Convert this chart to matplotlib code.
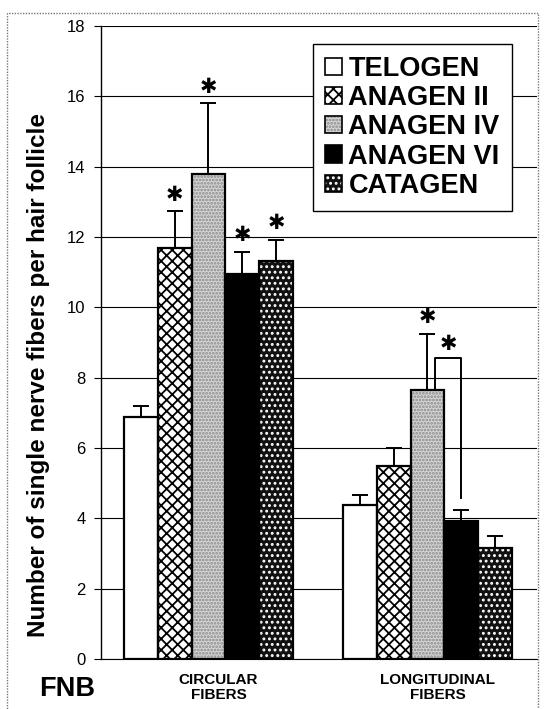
import numpy as np
import matplotlib
matplotlib.use("Agg")
import matplotlib.pyplot as plt
from matplotlib.patches import Rectangle, Patch

plt.rcParams['font.family'] = ['Liberation Sans', 'DejaVu Sans']
plt.rcParams['hatch.linewidth'] = 1.3

# data
groups = ['CIRCULAR\nFIBERS', 'LONGITUDINAL\nFIBERS']
stages = ['TELOGEN', 'ANAGEN II', 'ANAGEN IV', 'ANAGEN VI', 'CATAGEN']
means = {
    'TELOGEN':   [6.88, 4.38],
    'ANAGEN II': [11.7, 5.5],
    'ANAGEN IV': [13.78, 7.64],
    'ANAGEN VI': [10.95, 3.93],
    'CATAGEN':   [11.31, 3.15],
}
sems = {
    'TELOGEN':   [0.31, 0.27],
    'ANAGEN II': [1.03, 0.5],
    'ANAGEN IV': [2.02, 1.6],
    'ANAGEN VI': [0.63, 0.32],
    'CATAGEN':   [0.61, 0.35],
}
# significance stars: (group index, stage)
stars = [(0, 'ANAGEN II'), (0, 'ANAGEN IV'), (0, 'ANAGEN VI'), (0, 'CATAGEN'),
         (1, 'ANAGEN IV')]
bracket_top = 8.55       # IV vs VI, longitudinal
bracket_right_end = 4.57

group_x = np.array([0, 6.48])
width = 1.0

styles = {
    'TELOGEN':   dict(face='white', hatch=None, hcol='black'),
    'ANAGEN II': dict(face='white', hatch='xxx', hcol='black'),
    'ANAGEN IV': dict(face='#d4d4d4', hatch='.....', hcol='#8a8a8a'),
    'ANAGEN VI': dict(face='black', hatch=None, hcol='black'),
    'CATAGEN':   dict(face='#111111', hatch='...', hcol='white'),
}

fig = plt.figure(figsize=(5.46, 7.09), dpi=100)
ax = fig.add_axes([0.185, 0.0705, 0.7985, 0.8928])

handles = []
positions = {}
for i, st in enumerate(stages):
    xs = group_x + (i - 2) * width
    positions[st] = xs
    s = styles[st]
    # fill + hatch layer
    ax.bar(xs, means[st], width, color=s['face'], hatch=s['hatch'],
           edgecolor=s['hcol'], linewidth=0, zorder=2)
    # outline layer
    ax.bar(xs, means[st], width, fill=False, edgecolor='black',
           linewidth=1.6, zorder=3)
    ax.errorbar(xs, means[st], yerr=[np.zeros(2), sems[st]], fmt='none',
                ecolor='black', elinewidth=1.4, capsize=6, capthick=1.4, zorder=1)
    handles.append((Patch(facecolor=s['face'], hatch=s['hatch'], edgecolor=s['hcol'], linewidth=0),
                    Patch(fill=False, edgecolor='black', linewidth=1.2)))

for g, st in stars:
    ax.annotate('✱', (positions[st][g], means[st][g] + sems[st][g]),
                xytext=(0, 12), textcoords='offset points', ha='center', va='center',
                fontsize=15, family='DejaVu Sans')

# bracket between ANAGEN IV and ANAGEN VI (longitudinal)
x_left = positions['ANAGEN IV'][1] + 0.23
x_right = positions['ANAGEN VI'][1]
ax.plot([x_left, x_left, x_right, x_right],
        [means['ANAGEN IV'][1], bracket_top, bracket_top, bracket_right_end],
        color='black', lw=1.4, zorder=1)
ax.annotate('✱', ((x_left + x_right) / 2, bracket_top), xytext=(0, 10),
            textcoords='offset points', ha='center', va='center',
            fontsize=15, family='DejaVu Sans')

ax.set_xlim(-3.18, group_x[1] + 3.24)
ax.set_ylim(0, 18)
ax.set_yticks(np.arange(0, 19, 2))
ax.yaxis.grid(True, color='black', lw=0.8)
ax.set_axisbelow(True)
ax.tick_params(axis='y', labelsize=12, length=5, width=0.8, pad=6)
ax.set_xticks([])
for sp in ['top', 'right']:
    ax.spines[sp].set_visible(False)
ax.spines['left'].set_linewidth(1.0)
ax.spines['bottom'].set_linewidth(0.8)

fig.text(0.07, 0.471, 'Number of single nerve fibers per hair follicle', fontsize=17.5,
         fontweight='bold', rotation=90, ha='center', va='center')

for gx, name in zip(group_x, groups):
    ax.text(gx + 0.3, -0.4, name, ha='center', va='top', fontsize=11,
            fontweight='bold', linespacing=1.1)
fig.text(0.071, 0.018, 'FNB', fontsize=19.5, fontweight='bold', ha='left', va='baseline')

leg = ax.legend(handles, stages, loc='upper right', bbox_to_anchor=(0.961, 0.985),
                prop={'weight': 'bold', 'size': 19.5}, frameon=True,
                fancybox=False, edgecolor='black', framealpha=1,
                handlelength=0.6, handleheight=0.6, handletextpad=0.25,
                labelspacing=0.12, borderpad=0.45, borderaxespad=0.3)
leg.get_frame().set_linewidth(1.0)

# dotted frame around the whole figure
fig.patches.append(Rectangle((0.0128, -0.05), 0.9725, 1.032, transform=fig.transFigure,
                             fill=False, edgecolor='#777777', lw=1.0, ls=(0, (1, 1))))

fig.savefig('out.png', dpi=100)
